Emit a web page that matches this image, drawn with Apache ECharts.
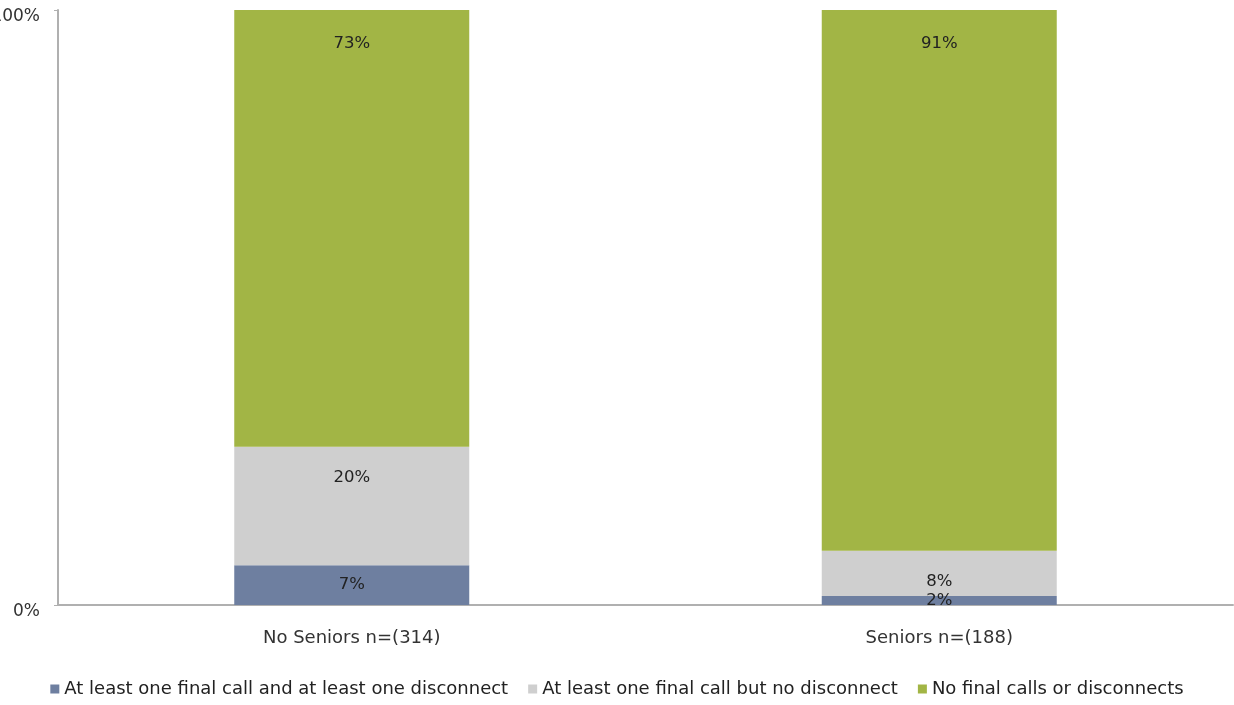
<!DOCTYPE html>
<html>
<head>
<meta charset="utf-8">
<script src="https://cdn.jsdelivr.net/npm/echarts@6/dist/echarts.min.js"></script>
<style>html,body{margin:0;padding:0;background:#fff}#c{width:1234px;height:705px}</style>
</head>
<body>
<div id="c"></div>
<script>
const categories = ['No Seniors n=(314)', 'Seniors n=(188)'];
const seriesNames = [
  'At least one final call and at least one disconnect',
  'At least one final call but no disconnect',
  'No final calls or disconnects'
];
const finalAndDisconnect = [6.7, 1.5];
const finalNoDisconnect = [19.9, 7.6];
const noFinalOrDisconnect = [73.4, 90.9];
const yTicks = [0, 100];

const colors = ['#6e7fa0', '#cfcfcf', '#a2b545'];
const fontFam = '"DejaVu Sans", sans-serif';

function lbl(pos, dist) {
  return {
    show: true, position: pos, distance: dist,
    formatter: p => Math.round(p.value) + '%',
    color: '#222', fontSize: 16.5, fontFamily: fontFam
  };
}

const chart = echarts.init(document.getElementById('c'), null, {renderer: 'canvas'});
chart.setOption({
  animation: false,
  color: colors,
  grid: {left: 58, right: 1, top: 10, bottom: 100, containLabel: false, outerBoundsMode: 'none'},
  legend: {
    bottom: 2, left: 'center',
    itemWidth: 9, itemHeight: 9, itemGap: 20,
    icon: 'rect',
    textStyle: {fontSize: 18, color: '#222', fontFamily: fontFam},
    data: seriesNames
  },
  xAxis: {
    type: 'category', data: categories,
    axisLine: {lineStyle: {color: '#b0b0b0', width: 2}},
    axisTick: {show: false},
    axisLabel: {fontSize: 18, color: '#333', margin: 24, fontFamily: fontFam}
  },
  yAxis: {
    type: 'value', min: yTicks[0], max: yTicks[1], interval: 100,
    axisLine: {show: true, lineStyle: {color: '#b0b0b0', width: 2}},
    axisTick: {show: true, length: 4, lineStyle: {color: '#b0b0b0'}},
    splitLine: {show: false},
    axisLabel: {formatter: v => v + '%', fontSize: 17, color: '#333', margin: 18, fontFamily: fontFam, verticalAlign: 'top', padding: [-2, 0, 0, 0]}
  },
  series: [
    {name: seriesNames[0], type: 'bar', stack: 's', barWidth: '40%', data: finalAndDisconnect, label: lbl('inside', 0)},
    {name: seriesNames[1], type: 'bar', stack: 's', data: finalNoDisconnect, label: lbl('insideTop', 22)},
    {name: seriesNames[2], type: 'bar', stack: 's', data: noFinalOrDisconnect, label: lbl('insideTop', 25)}
  ]
});
</script>
</body>
</html>
